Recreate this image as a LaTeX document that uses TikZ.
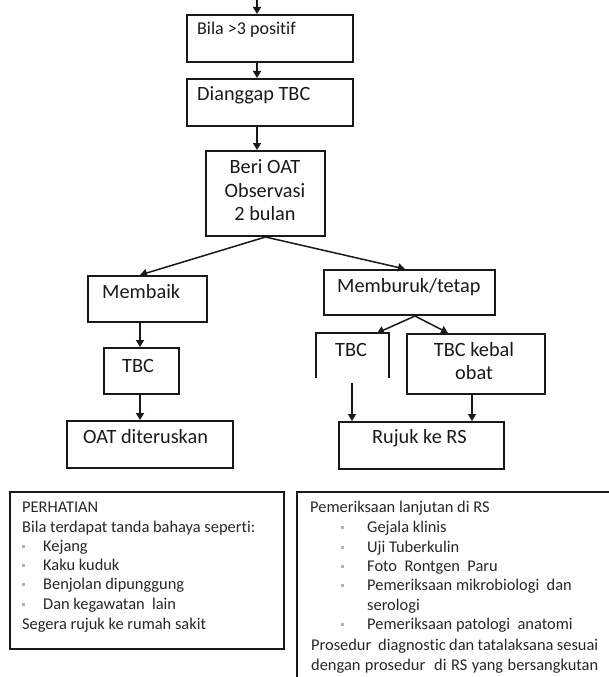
\documentclass[tikz,border=0pt]{standalone}
\usepackage{fontspec}
\setmainfont{Carlito}[Ligatures={NoCommon}]
\usetikzlibrary{arrows.meta,calc}
\newcommand\sqb{\textcolor{black!30}{\rule[3.5pt]{3pt}{3pt}}}
\begin{document}
\begin{tikzpicture}[x=1pt,y=-1pt,
  box/.style={draw=black!90, line width=2pt, inner sep=0pt, anchor=north west},
  frame/.style={inner sep=0pt, anchor=north west},
  side/.style={draw=black!90, line width=2pt},
  arr/.style={draw=black!90, line width=1.5pt, -{Triangle[length=7pt,width=8pt]}},
  big/.style={font=\fontsize{20.3}{24}\selectfont, inner sep=0pt, text=black!90, anchor=base west},
  mid/.style={font=\fontsize{18}{22}\selectfont, inner sep=0pt, text=black!90, anchor=base west},
  small/.style={font=\fontsize{16.4}{19.5}\selectfont, inner sep=0pt, text=black!85, anchor=base west}]
\useasboundingbox (0,0) rectangle (609,677);

% boxes
\node[box, minimum width=166pt, minimum height=47pt] (b1) at (186,14) {};
\node[box, minimum width=166pt, minimum height=47pt] (b2) at (186,78) {};
\node[box, minimum width=119pt, minimum height=85pt] (b3) at (205,150) {};
\node[box, minimum width=119pt, minimum height=46pt] (b4) at (87,275) {};
\node[box, minimum width=75pt, minimum height=46pt] (b5) at (103,347) {};
\node[box, minimum width=166pt, minimum height=47pt] (b6) at (66,420) {};
\node[box, minimum width=171pt, minimum height=45pt] (b7) at (323,269) {};
\node[frame, minimum width=73pt, minimum height=45pt] (b8) at (316,333) {};
\draw[side] (b8.south west) -- (b8.north west) -- (b8.north east) -- (b8.south east);
\node[box, minimum width=138pt, minimum height=60pt] (b9) at (406,333) {};
\node[box, minimum width=165pt, minimum height=47pt] (b10) at (338,421) {};
\node[box, minimum width=274pt, minimum height=157pt] (b11) at (9,491) {};
\node[frame, minimum width=312pt, minimum height=185pt] (b12) at (297,492) {};
\draw[side] (b12.south west) -- (b12.north west) -- (b12.north east);

% texts
\node[mid] (t1) at (197,35) {Bila >3 positif};
\node[big] (t2) at (197,100) {Dianggap TBC};
\node[big, anchor=base] (t3a) at (265,173) {Beri OAT};
\node[big, anchor=base] (t3b) at (265,197) {Observasi};
\node[big, anchor=base] (t3c) at (265,220) {2 bulan};
\node[big] (t4) at (102,298) {Membaik};
\node[big] (t5) at (122,372) {TBC};
\node[big] (t6) at (83,443) {OAT diteruskan};
\node[big] (t7) at (337,292) {Memburuk/tetap};
\node[big] (t8) at (335,356) {TBC};
\node[big, anchor=base] (t9a) at (474,356) {TBC kebal};
\node[big, anchor=base] (t9b) at (474,379) {obat};
\node[big] (t10) at (372,443) {Rujuk ke RS};

\node[small] (l1) at (22,512) {PERHATIAN};
\node[small] (l2) at (22,532) {Bila terdapat tanda bahaya seperti:};
\node[small] (l3) at (22,551) {\makebox[21pt][l]{\sqb}Kejang};
\node[small] (l4) at (22,570) {\makebox[21pt][l]{\sqb}Kaku kuduk};
\node[small] (l5) at (22,589) {\makebox[21pt][l]{\sqb}Benjolan dipunggung};
\node[small] (l6) at (22,609) {\makebox[21pt][l]{\sqb}Dan kegawatan\ \ lain};
\node[small] (l7) at (22,629) {Segera rujuk ke rumah sakit};

\node[small] (r1) at (310,512) {Pemeriksaan lanjutan di RS};
\node[small] (r2) at (341,532) {\makebox[26pt][l]{\sqb}Gejala klinis};
\node[small] (r3) at (341,552) {\makebox[26pt][l]{\sqb}Uji Tuberkulin};
\node[small] (r4) at (341,571) {\makebox[26pt][l]{\sqb}Foto\ \ Rontgen\ \ Paru};
\node[small] (r5) at (341,590) {\makebox[26pt][l]{\sqb}Pemeriksaan mikrobiologi\ \ dan};
\node[small] (r6) at (367,610) {serologi};
\node[small] (r7) at (341,629) {\makebox[26pt][l]{\sqb}Pemeriksaan patologi\ \ anatomi};
\node[small] (r8) at (311,650) {\makebox[287pt][s]{Prosedur\ \ diagnostic dan tatalaksana sesuai}};
\node[small] (r9) at (311,670) {\makebox[287pt][s]{dengan prosedur\ \ di RS yang bersangkutan}};

% connectors
\coordinate (cx) at (257,0);
\coordinate (lx) at (140,0);
\coordinate (m1) at (377,0);
\coordinate (m2) at (448,0);
\coordinate (ax) at (352,0);
\coordinate (bx) at (472,0);
\coordinate (sp) at ($(b7.south west)+(92,0)$);
\draw[arr] (cx) -- (cx |- b1.north);
\draw[arr] (cx |- b1.south) -- (cx |- b2.north);
\draw[arr] (cx |- b2.south) -- (cx |- b3.north);
\draw[arr] (b3.south) -- (lx |- b4.north);
\draw[arr] (b3.south) -- ($(b7.north west)+(82,0)$);
\draw[arr] (lx |- b4.south) -- (lx |- b5.north);
\draw[arr] (lx |- b5.south) -- (lx |- b6.north);
\draw[arr] (sp) -- (m1 |- b8.north);
\draw[arr] (sp) -- (m2 |- b9.north);
\draw[arr] ($(ax |- b8.south)+(0,5)$) -- (ax |- b10.north);
\draw[arr] (bx |- b9.south) -- (bx |- b10.north);
\end{tikzpicture}
\end{document}
